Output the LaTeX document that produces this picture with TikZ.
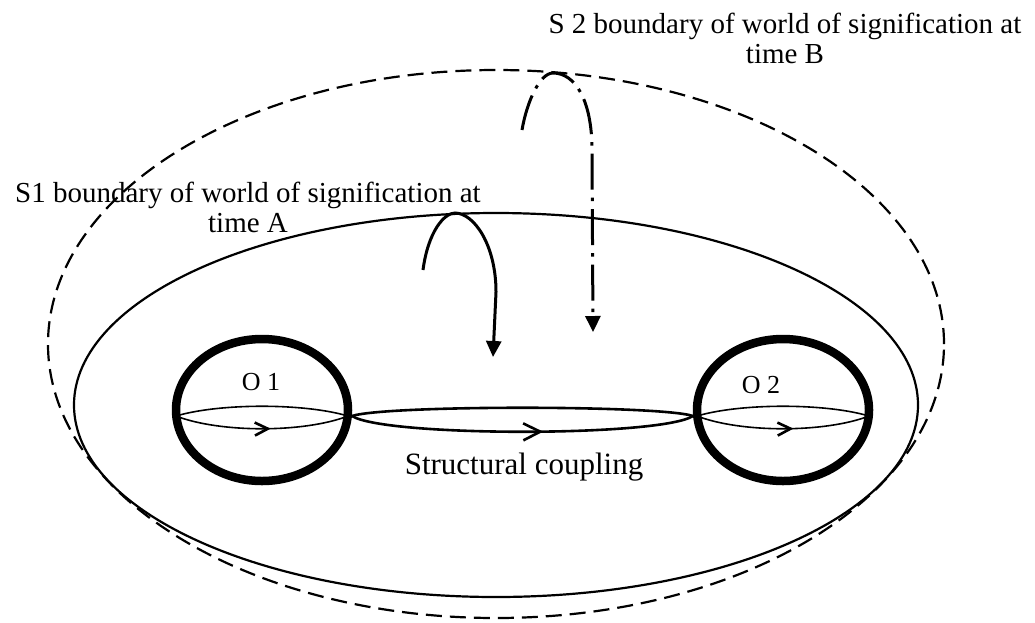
\documentclass[tikz,border=0pt]{standalone}
\usepackage{fontspec}
\setmainfont{Liberation Serif}
\usetikzlibrary{arrows.meta,decorations.markings}
\begin{document}
\begin{tikzpicture}[x=1pt,y=-1pt,
  bound/.style={line width=2.2pt},
  dashbound/.style={line width=2.2pt, dash pattern=on 16pt off 8pt},
  organism/.style={line width=8.5pt},
  lensline/.style={line width=1.6pt},
  couple/.style={line width=2.6pt},
  midarrow/.style 2 args={postaction={decorate},decoration={markings,mark=at position #1 with {\arrow{Straight Barb[length=#2,width=#2,line width=2.6pt]}}}},
  biglabel/.style={font=\fontsize{29}{30}\selectfont, inner sep=0pt, align=center},
  olabel/.style={font=\fontsize{26}{28}\selectfont, inner sep=0pt},
  clabel/.style={font=\fontsize{31}{33}\selectfont, inner sep=0pt},
  recursion/.style={line width=3pt, -{Triangle[length=16pt,width=15pt]}},
  dashdot/.style={dash pattern=on 36pt off 8pt on 3.5pt off 8pt},
]
\useasboundingbox (0,0) rectangle (1035,622);

% world boundaries
\draw[dashbound] (496,344) ellipse [x radius=448pt, y radius=274pt];
\draw[bound] (496,405) ellipse [x radius=422pt, y radius=192pt];

% organisms
\draw[organism] (262,410) ellipse [x radius=86pt, y radius=71pt];
\draw[organism] (783,410) ellipse [x radius=86pt, y radius=71pt];

% lens coordinates
\coordinate (o1l) at (176,416);
\coordinate (o1r) at (348,416);
\coordinate (scl) at (352,416);
\coordinate (scr) at (693,416);
\coordinate (o2l) at (697,416);
\coordinate (o2r) at (869,416);

% O1 lens
\draw[lensline] (o1l) .. controls (220,403) and (304,403) .. (o1r);
\draw[lensline, midarrow={0.55}{13pt}] (o1l) .. controls (220,433) and (304,433) .. (o1r);
% structural coupling lens
\draw[couple] (scl) .. controls (385,405) and (660,405) .. (scr);
\draw[couple, midarrow={0.56}{17pt}] (scl) .. controls (385,437) and (660,437) .. (scr);
% O2 lens
\draw[lensline] (o2l) .. controls (741,403) and (825,403) .. (o2r);
\draw[lensline, midarrow={0.56}{13pt}] (o2l) .. controls (741,433) and (825,433) .. (o2r);

% labels
\node[biglabel] (s1) at (248,207) {S1 boundary of world of signification at\\time A};
\node[biglabel] (s2) at (785,38) {S 2 boundary of world of signification at\\time B};
\node[olabel] (o1) at (261,382) {O 1};
\node[olabel] (o2) at (761,385) {O 2};
\node[clabel] (sc) at (524,467) {Structural coupling};

% recursive arrows
\coordinate (ra0) at (423,270);
\coordinate (ra1) at (493,357);
\draw[recursion] (ra0) .. controls (428,232) and (444,213) .. (455,213)
  .. controls (474,213) and (496,245) .. (496,292) -- (ra1);
\coordinate (rb0) at (522,130);
\coordinate (rb1) at (593,332);
\draw[recursion, dashdot] (rb0) .. controls (527,101) and (540,73) .. (553,73)
  .. controls (575,73) and (592,100) .. (592,150) -- (rb1);
\end{tikzpicture}
\end{document}
